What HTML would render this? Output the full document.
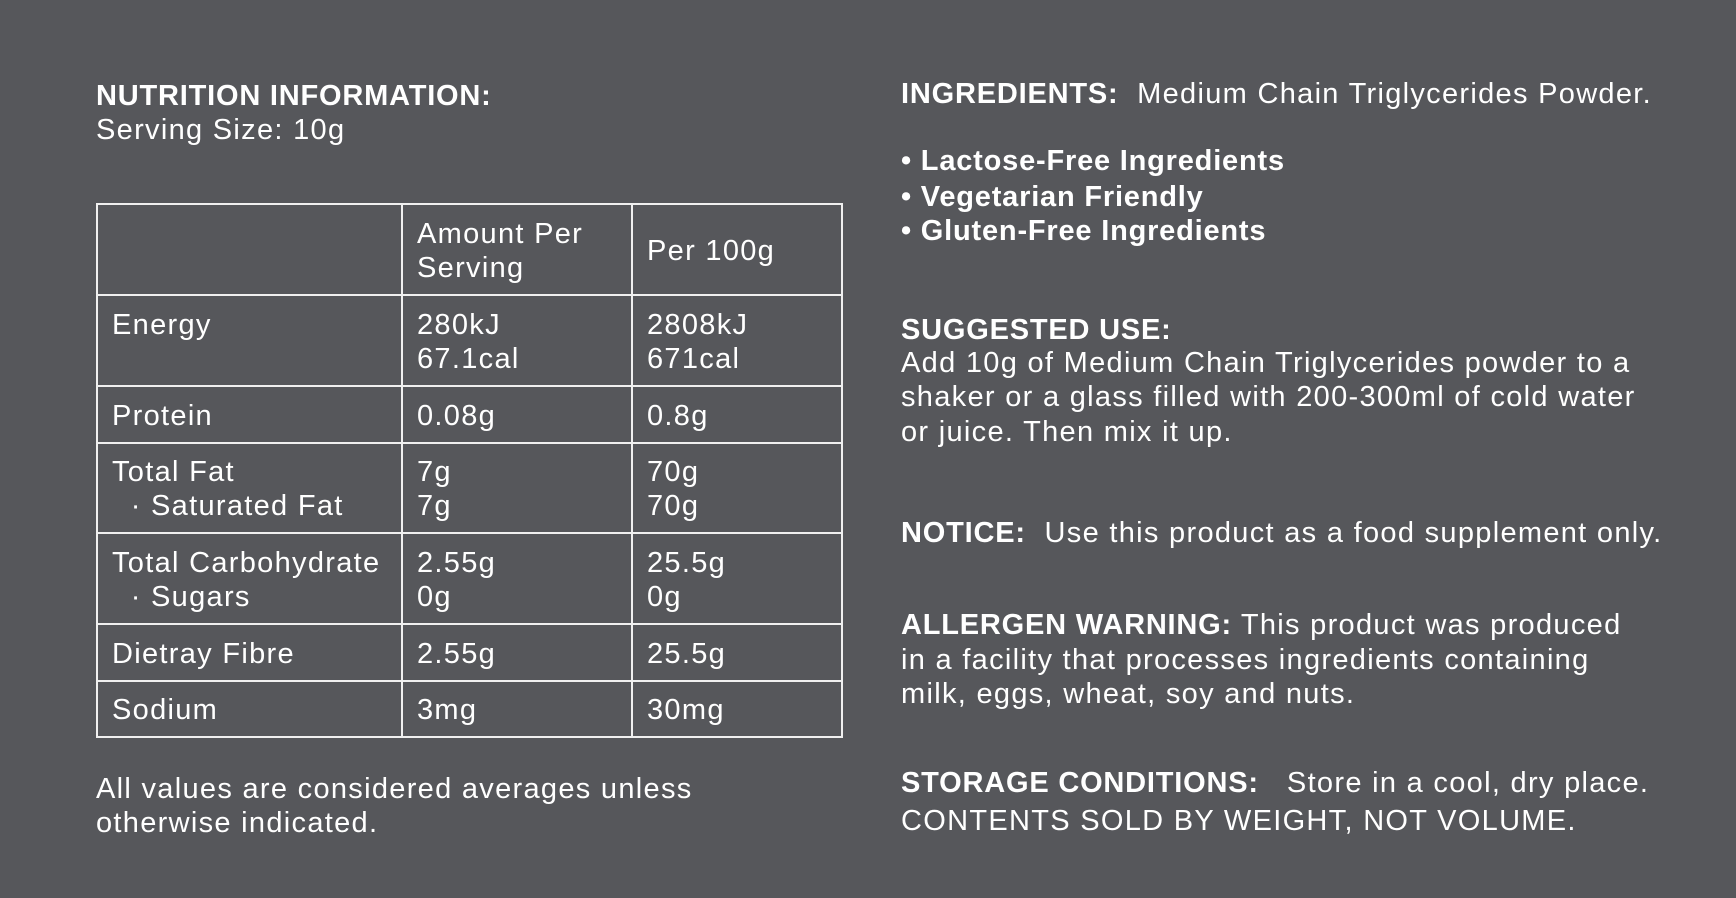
<!DOCTYPE html>
<html><head><meta charset="utf-8"><style>
html,body{margin:0;padding:0}
body{width:1736px;height:898px;background:#56575b;position:relative;overflow:hidden;font-family:"Liberation Sans",sans-serif;color:#fff;font-size:29px;letter-spacing:1.3px}
.t{position:absolute;white-space:nowrap;line-height:34px}
b{font-weight:900;letter-spacing:0.8px}
table{position:absolute;left:96px;top:203px;border-collapse:collapse}
td{border:2px solid #f0f0f0;vertical-align:middle;padding:2px 0 0 14px;line-height:34px;font-size:29px}
</style></head><body>
<div class="t" style="left:96px;top:79px"><b>NUTRITION INFORMATION:</b></div>
<div class="t" style="left:96px;top:113px">Serving Size: 10g</div>
<table>
<tr style="height:91px"><td style="width:289px"></td><td style="width:214px">Amount Per<br>Serving</td><td style="width:194px">Per 100g</td></tr>
<tr style="height:91px"><td>Energy<br>&nbsp;</td><td>280kJ<br>67.1cal</td><td>2808kJ<br>671cal</td></tr>
<tr style="height:57px"><td>Protein</td><td>0.08g</td><td>0.8g</td></tr>
<tr style="height:90px"><td>Total Fat<br>&nbsp;&nbsp;· Saturated Fat</td><td>7g<br>7g</td><td>70g<br>70g</td></tr>
<tr style="height:91px"><td>Total Carbohydrate<br>&nbsp;&nbsp;· Sugars</td><td>2.55g<br>0g</td><td>25.5g<br>0g</td></tr>
<tr style="height:57px"><td>Dietray Fibre</td><td>2.55g</td><td>25.5g</td></tr>
<tr style="height:56px"><td>Sodium</td><td>3mg</td><td>30mg</td></tr>
</table>
<div class="t" style="left:96px;top:772px">All values are considered averages unless</div>
<div class="t" style="left:96px;top:806px">otherwise indicated.</div>

<div class="t" style="left:901px;top:77px"><b>INGREDIENTS:</b>&nbsp; Medium Chain Triglycerides Powder.</div>
<div class="t" style="left:901px;top:144px"><b>• Lactose-Free Ingredients</b></div>
<div class="t" style="left:901px;top:180px"><b>• Vegetarian Friendly</b></div>
<div class="t" style="left:901px;top:214px"><b>• Gluten-Free Ingredients</b></div>
<div class="t" style="left:901px;top:313px"><b>SUGGESTED USE:</b></div>
<div class="t" style="left:901px;top:346px">Add 10g of Medium Chain Triglycerides powder to a</div>
<div class="t" style="left:901px;top:380px">shaker or a glass filled with 200-300ml of cold water</div>
<div class="t" style="left:901px;top:415px">or juice. Then mix it up.</div>
<div class="t" style="left:901px;top:516px"><b>NOTICE:</b>&nbsp; Use this product as a food supplement only.</div>
<div class="t" style="left:901px;top:608px"><b>ALLERGEN WARNING:</b> This product was produced</div>
<div class="t" style="left:901px;top:643px">in a facility that processes ingredients containing</div>
<div class="t" style="left:901px;top:677px">milk, eggs, wheat, soy and nuts.</div>
<div class="t" style="left:901px;top:766px"><b>STORAGE CONDITIONS:</b>&nbsp;&nbsp; Store in a cool, dry place.</div>
<div class="t" style="left:901px;top:804px">CONTENTS SOLD BY WEIGHT, NOT VOLUME.</div>
</body></html>
